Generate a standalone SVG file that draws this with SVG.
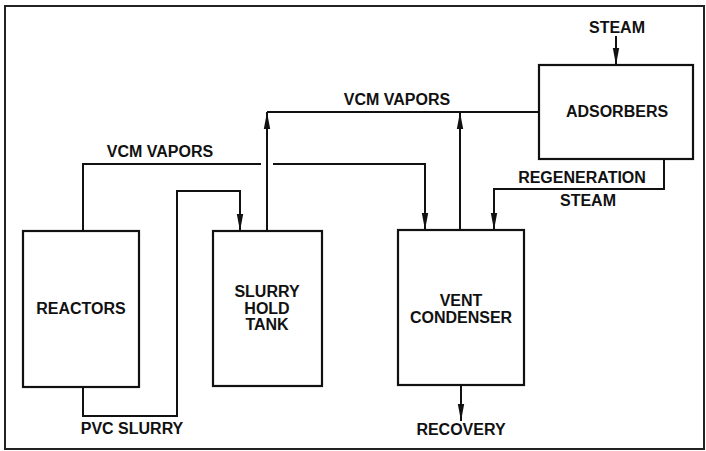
<svg xmlns="http://www.w3.org/2000/svg" width="706" height="451" viewBox="0 0 706 451">
<style>
.box{fill:#fff;stroke:#111;stroke-width:2.2}
.ln{fill:none;stroke:#111;stroke-width:2}
.t{font-family:"Liberation Sans",Arial,Helvetica,sans-serif;font-weight:bold;font-size:16px;fill:#111;text-anchor:middle}
</style>
<defs>
<marker id="ah" markerUnits="userSpaceOnUse" markerWidth="18" markerHeight="8" refX="17" refY="4" orient="auto">
<path d="M0,0.8 L17,4 L0,7.2 z" fill="#111"/>
</marker>
</defs>
<rect x="5" y="6" width="699" height="443" fill="#fff" stroke="#222" stroke-width="2"/>
<g id="connectors">
<path class="ln" d="M83,231 V164 H261"/>
<path class="ln" d="M273,164 H425 V230" marker-end="url(#ah)"/>
<path class="ln" d="M83,387 V416 H177 V191 H240 V231" marker-end="url(#ah)"/>
<path class="ln" d="M267,231 V112" marker-end="url(#ah)"/>
<path class="ln" d="M267,112 H539"/>
<path class="ln" d="M460,230 V112" marker-end="url(#ah)"/>
<path class="ln" d="M664,159 V189 H494 V230" marker-end="url(#ah)"/>
<path class="ln" d="M616,36 V65" marker-end="url(#ah)"/>
<path class="ln" d="M461,385 V421" marker-end="url(#ah)"/>
</g>
<g id="reactors">
<rect class="box" x="23" y="231" width="116" height="156"/>
<text class="t" x="81" y="314">REACTORS</text>
</g>
<g id="slurry-hold-tank">
<rect class="box" x="213" y="231" width="109" height="155"/>
<text class="t" x="267" y="297">SLURRY</text>
<text class="t" x="267" y="314">HOLD</text>
<text class="t" x="267" y="330">TANK</text>
</g>
<g id="vent-condenser">
<rect class="box" x="398" y="230" width="126" height="155"/>
<text class="t" x="461" y="306">VENT</text>
<text class="t" x="461" y="323">CONDENSER</text>
</g>
<g id="adsorbers">
<rect class="box" x="539" y="65" width="154" height="94"/>
<text class="t" x="617" y="117">ADSORBERS</text>
</g>
<g id="labels">
<text class="t" x="160" y="157">VCM VAPORS</text>
<text class="t" x="397" y="105">VCM VAPORS</text>
<text class="t" x="132" y="434">PVC SLURRY</text>
<text class="t" x="617" y="33">STEAM</text>
<text class="t" x="582" y="183">REGENERATION</text>
<text class="t" x="588" y="206">STEAM</text>
<text class="t" x="461" y="435">RECOVERY</text>
</g>
</svg>
